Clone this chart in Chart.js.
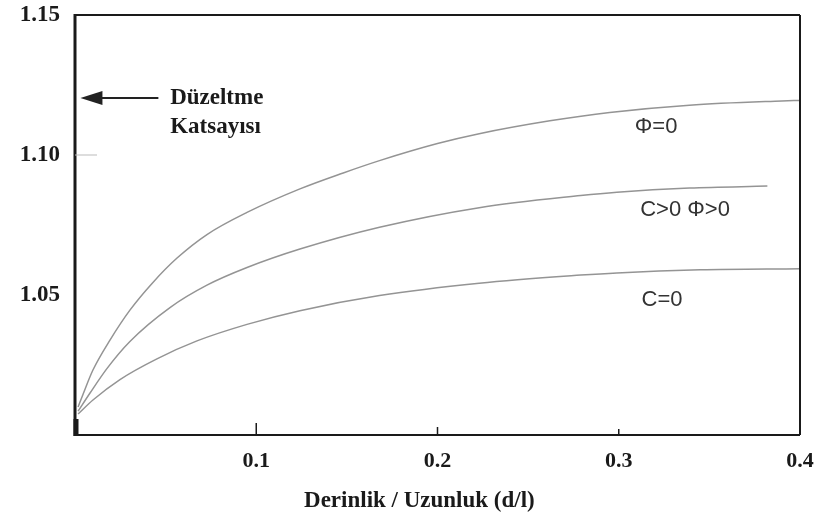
<!DOCTYPE html>
<html><head><meta charset="utf-8">
<script src="https://cdn.jsdelivr.net/npm/chart.js@4/dist/chart.umd.min.js"></script>
<style>html,body{margin:0;padding:0;background:#fff}</style>
</head><body>
<canvas id="c" width="818" height="520"></canvas>
<script>
// ---- data ----
const xTickValues = [0.1, 0.2, 0.3, 0.4];
const yTickValues = [1.05, 1.10, 1.15];

const phi0X = [0.0017, 0.0044, 0.0099, 0.0193, 0.0303, 0.0430, 0.0563, 0.0728, 0.0949, 0.1241, 0.148, 0.168, 0.2, 0.223, 0.262, 0.295, 0.339, 0.39, 0.4];
const phi0Y = [1.010, 1.0145, 1.0232, 1.0339, 1.0446, 1.0545, 1.0632, 1.0716, 1.0795, 1.0879, 1.0936, 1.098, 1.1041, 1.1076, 1.1122, 1.1152, 1.1178, 1.1193, 1.1195];

const cphiX = [0.0017, 0.0083, 0.0177, 0.0303, 0.0524, 0.0728, 0.0949, 0.1241, 0.168, 0.223, 0.279, 0.299, 0.339, 0.382];
const cphiY = [1.0085, 1.0150, 1.0238, 1.0334, 1.0455, 1.0535, 1.0598, 1.0664, 1.0742, 1.0812, 1.0855, 1.0867, 1.0882, 1.0889];

const c0X = [0.0017, 0.0099, 0.0248, 0.0452, 0.0673, 0.0949, 0.1241, 0.168, 0.223, 0.279, 0.299, 0.345, 0.4];
const c0Y = [1.0075, 1.0125, 1.0198, 1.0272, 1.0336, 1.0395, 1.0444, 1.0498, 1.0542, 1.0571, 1.0579, 1.0590, 1.0594];

const curveLabels = ["Φ=0", "C>0 Φ>0", "C=0"];
const curveLabelX = [0.3206, 0.3366, 0.3239];
const curveLabelY = [1.110, 1.0804, 1.0482];

const noteLines = ["Düzeltme", "Katsayısı"];
const noteX = 0.0525;
const noteY = [1.1204, 1.110];
const arrowFromX = 0.046, arrowToX = 0.003, arrowY = 1.1204;

const xTitle = "Derinlik / Uzunluk (d/l)";
const xTitleCenter = 0.19;

function pts(xs, ys){ return xs.map((x,i)=>({x:x, y:ys[i]})); }

const serifBold = "bold 23px 'Liberation Serif', 'DejaVu Serif', serif";

const decor = {
  id: 'decor',
  afterDraw(chart){
    const {ctx, chartArea:a, scales:{x, y}} = chart;
    ctx.save();
    ctx.strokeStyle = '#1a1a1a';
    // frame
    ctx.lineWidth = 2;
    ctx.beginPath();
    ctx.moveTo(a.left, a.top); ctx.lineTo(a.right, a.top);
    ctx.moveTo(a.right, a.top); ctx.lineTo(a.right, a.bottom);
    ctx.moveTo(a.left, a.bottom); ctx.lineTo(a.right, a.bottom);
    ctx.stroke();
    ctx.lineWidth = 3;
    ctx.beginPath();
    ctx.moveTo(a.left, a.top - 1); ctx.lineTo(a.left, a.bottom + 1);
    ctx.stroke();
    // darker corner blob on the left axis
    ctx.lineWidth = 5;
    ctx.beginPath(); ctx.moveTo(a.left + 1, a.bottom + 1); ctx.lineTo(a.left + 1, a.bottom - 16); ctx.stroke();
    // inner x ticks
    const tl = [12, 8, 6];
    ctx.lineWidth = 1.5;
    xTickValues.slice(0,3).forEach((v,i)=>{
      const px = x.getPixelForValue(v);
      ctx.beginPath(); ctx.moveTo(px, a.bottom); ctx.lineTo(px, a.bottom - tl[i]); ctx.stroke();
    });
    // inner y tick at 1.10
    ctx.strokeStyle = '#bbbbbb'; ctx.lineWidth = 1;
    const py = y.getPixelForValue(1.10);
    ctx.beginPath(); ctx.moveTo(a.left, py); ctx.lineTo(a.left + 22, py); ctx.stroke();
    // arrow
    ctx.strokeStyle = '#222'; ctx.fillStyle = '#222'; ctx.lineWidth = 2;
    const ax0 = x.getPixelForValue(arrowFromX), ax1 = x.getPixelForValue(arrowToX), ay = y.getPixelForValue(arrowY);
    ctx.beginPath(); ctx.moveTo(ax0, ay); ctx.lineTo(ax1 + 14, ay); ctx.stroke();
    ctx.beginPath(); ctx.moveTo(ax1, ay); ctx.lineTo(ax1 + 22, ay - 7); ctx.lineTo(ax1 + 22, ay + 7); ctx.closePath(); ctx.fill();
    // note text
    ctx.font = serifBold; ctx.textAlign = 'left'; ctx.textBaseline = 'middle'; ctx.fillStyle = '#1a1a1a';
    noteLines.forEach((t,i)=> ctx.fillText(t, x.getPixelForValue(noteX), y.getPixelForValue(noteY[i])));
    // x axis title
    ctx.textAlign = 'center';
    ctx.fillText(xTitle, x.getPixelForValue(xTitleCenter), a.bottom + 66);
    // curve labels
    ctx.font = "22px 'Liberation Sans', Arial, sans-serif"; ctx.fillStyle = '#333';
    curveLabels.forEach((t,i)=> ctx.fillText(t, x.getPixelForValue(curveLabelX[i]), y.getPixelForValue(curveLabelY[i])));
    ctx.restore();
  }
};

const ds = (label, data) => ({label, data, borderColor:'#949494', borderWidth:1.5, pointRadius:0, fill:false, cubicInterpolationMode:'monotone'});

new Chart(document.getElementById('c'), {
  type: 'line',
  data: { datasets: [ ds(curveLabels[0], pts(phi0X, phi0Y)), ds(curveLabels[1], pts(cphiX, cphiY)), ds(curveLabels[2], pts(c0X, c0Y)) ] },
  options: {
    responsive: false, animation: false, devicePixelRatio: 1,
    layout: { padding: { top: 15, right: 18, left: 0, bottom: 0 } },
    plugins: { legend: {display:false}, tooltip: {enabled:false} },
    scales: {
      x: {
        type: 'linear', min: 0, max: 0.4,
        grid: { display: false, drawTicks: false }, border: { display: false },
        afterBuildTicks(s){ s.ticks = [0].concat(xTickValues).map(v=>({value:v})); },
        ticks: { padding: 13, color: '#1a1a1a', font: { family: "'Liberation Serif', serif", size: 22, weight: 'bold' },
          maxRotation: 0, callback: (v) => v === 0 ? '' : v.toFixed(1) },
        title: { display: false, text: xTitle },
        afterFit(s){ s.height = 85; s.paddingLeft = 0; s.paddingRight = 0; }
      },
      y: {
        type: 'linear', min: 1.0, max: 1.15,
        grid: { display: false, drawTicks: false }, border: { display: false },
        afterBuildTicks(s){ s.ticks = [1.0].concat(yTickValues).map(v=>({value:v})); },
        ticks: { padding: 15, color: '#1a1a1a', font: { family: "'Liberation Serif', serif", size: 23, weight: 'bold' },
          callback: (v) => v === 1.0 ? '' : v.toFixed(2) },
        afterFit(s){ s.width = 75; s.paddingTop = 0; s.paddingBottom = 0; }
      }
    }
  },
  plugins: [decor]
});
</script>
</body></html>
